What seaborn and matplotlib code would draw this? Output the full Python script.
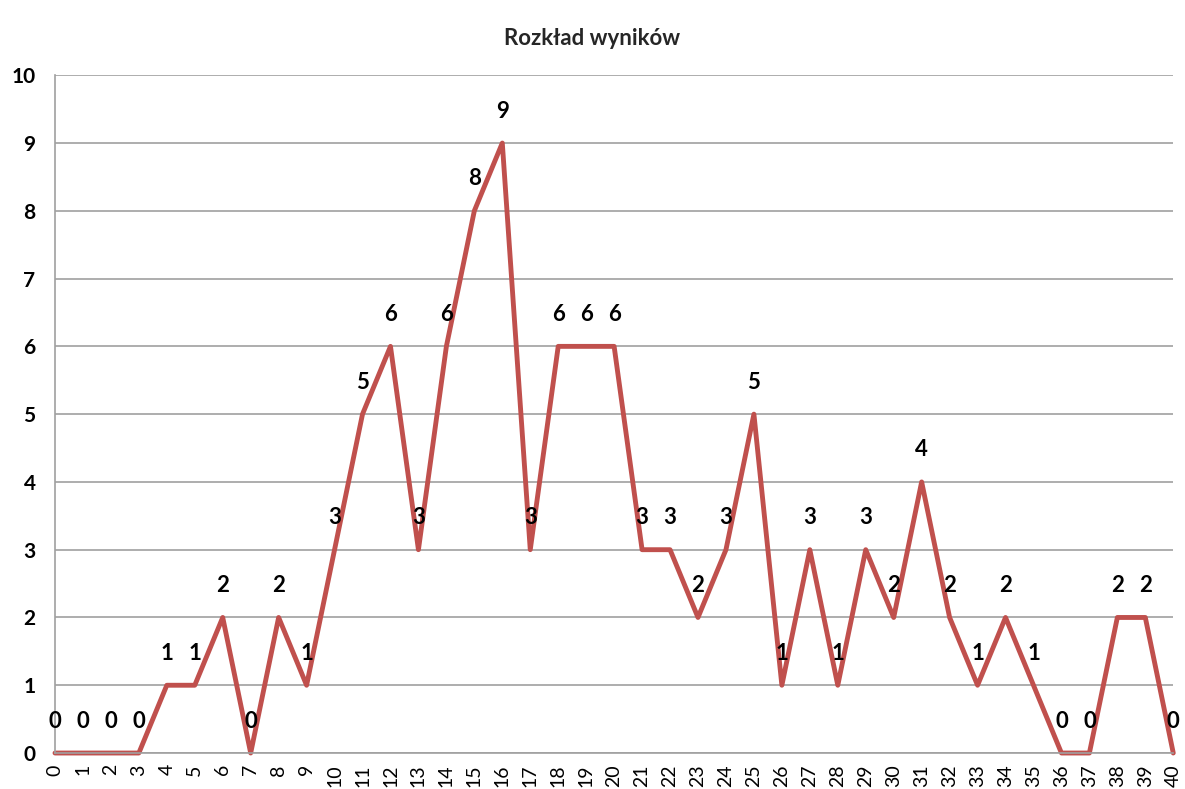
import matplotlib
matplotlib.use('Agg')
import matplotlib.pyplot as plt
import seaborn as sns
import pandas as pd

# score distribution
scores = list(range(0, 41))
counts = [0, 0, 0, 0, 1, 1, 2, 0, 2, 1,
          3, 5, 6, 3, 6, 8, 9, 3, 6, 6,
          6, 3, 3, 2, 3, 5, 1, 3, 1, 3,
          2, 4, 2, 1, 2, 1, 0, 0, 2, 2, 0]
title = 'Rozkład wyników'

data = pd.DataFrame({'wynik': scores, 'liczba': counts})

sns.set_style('white')
plt.rcParams['font.family'] = ['Lato', 'DejaVu Sans']

fig = plt.figure(figsize=(11.85, 7.89), dpi=100)
ax = fig.add_axes([0.0464, 0.0456, 0.9437, 0.859])

sns.lineplot(x='wynik', y='liczba', data=data, ax=ax, color='#C0504D',
             linewidth=3.5, clip_on=False)

# data labels above each point
for x, y in zip(scores, counts):
    ax.annotate(str(y), (x, y), xytext=(0, 23), textcoords='offset points',
                ha='center', va='center', fontsize=16, fontweight='bold',
                color='black')

ax.set_xlim(0, 40)
ax.set_ylim(0, 10)
ax.set_xticks(scores)
ax.set_xticklabels([str(s) for s in scores], rotation=90, fontsize=14, color='black')
ax.set_yticks(range(0, 11))
ax.set_yticklabels([str(v) for v in range(0, 11)], fontsize=15, fontweight='bold',
                   color='black')
ax.set_xlabel('')
ax.set_ylabel('')

ax.yaxis.grid(True, color='#A0A0A0', linewidth=1.2)
ax.xaxis.grid(False)
ax.set_axisbelow(True)

for side in ['top', 'right']:
    ax.spines[side].set_visible(False)
for side in ['left', 'bottom']:
    ax.spines[side].set_color('#A0A0A0')
    ax.spines[side].set_linewidth(1.2)

ax.tick_params(axis='x', direction='inout', length=12, width=1.2, color='#A0A0A0', pad=2)
ax.tick_params(axis='y', direction='out', length=8, width=1.2, color='#A0A0A0', pad=6)

fig.suptitle(title, y=0.965, fontsize=16, fontweight='bold')

fig.savefig('out.png', dpi=100)
